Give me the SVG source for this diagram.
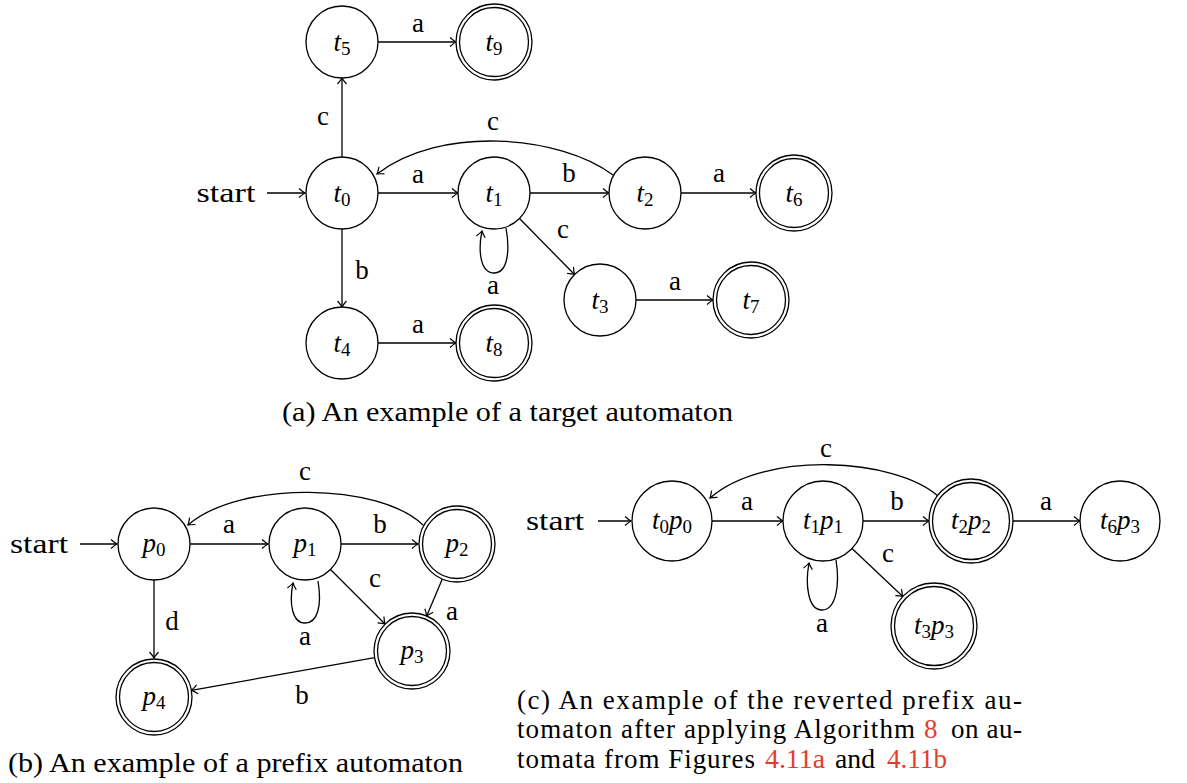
<svg xmlns="http://www.w3.org/2000/svg" width="1187" height="783" viewBox="0 0 1187 783" font-family="'Liberation Serif', 'Times New Roman', Tinos, 'Noto Serif', 'DejaVu Serif', Times, serif">
<style>
.st{fill:#fff;stroke:#000;stroke-width:1.3}
.ed{fill:none;stroke:#000;stroke-width:1.3;marker-end:url(#ar)}
text{font-family:'Liberation Serif','Times New Roman',Tinos,'Noto Serif','DejaVu Serif',Times,serif;fill:#000}
.lb{font-size:27px;text-anchor:middle}
.nl{font-size:27px;text-anchor:middle;font-style:italic}
.sb{font-size:19px;font-style:normal}
.cap{font-size:27px}
.red{fill:#e23d2c}
</style>
<defs>
<marker id="ar" viewBox="-8 -6 10 12" refX="0" refY="0" markerWidth="10" markerHeight="12" orient="auto" markerUnits="userSpaceOnUse">
<path d="M-6,-4.5 Q-2,-1 0,0 Q-2,1 -6,4.5" fill="none" stroke="#000" stroke-width="1.2"/>
</marker>
</defs>

<!-- (a) target automaton -->
<g id="a-connectors">
<line class="ed" x1="267" y1="193" x2="305" y2="193"/>
<line class="ed" x1="378" y1="193" x2="458" y2="193"/>
<line class="ed" x1="530" y1="193" x2="609" y2="193"/>
<line class="ed" x1="681" y1="193" x2="756" y2="193"/>
<line class="ed" x1="342" y1="157" x2="342" y2="78"/>
<line class="ed" x1="378" y1="42" x2="456" y2="42"/>
<line class="ed" x1="342" y1="229" x2="342" y2="307"/>
<line class="ed" x1="378" y1="343" x2="456" y2="343"/>
<line class="ed" x1="636" y1="300" x2="713" y2="300"/>
<line class="ed" x1="519.5" y1="218.5" x2="574.5" y2="274.5"/>
<path class="ed" d="M613,175 C560,135 440,125 377,174"/>
<path class="ed" d="M506,228 C510,250 508,273 494,273 C480,273 478,250 482,231"/>
<text class="lb" x="418" y="183">a</text>
<text class="lb" x="569" y="182">b</text>
<text class="lb" x="719" y="182">a</text>
<text class="lb" x="323" y="125">c</text>
<text class="lb" x="418" y="32">a</text>
<text class="lb" x="362" y="279">b</text>
<text class="lb" x="418" y="333">a</text>
<text class="lb" x="563" y="238">c</text>
<text class="lb" x="675" y="290">a</text>
<text class="lb" x="493" y="130">c</text>
<text class="lb" x="493" y="294">a</text>
</g>
<g id="a-start"><text class="lb" x="226" y="202" textLength="59" lengthAdjust="spacingAndGlyphs">start</text></g>
<g id="t0"><circle class="st" cx="342" cy="193" r="36"/><text class="nl" x="342" y="202">t<tspan class="sb" dy="4">0</tspan></text></g>
<g id="t1"><circle class="st" cx="494" cy="193" r="36"/><text class="nl" x="494" y="202">t<tspan class="sb" dy="4">1</tspan></text></g>
<g id="t2"><circle class="st" cx="645" cy="193" r="36"/><text class="nl" x="645" y="202">t<tspan class="sb" dy="4">2</tspan></text></g>
<g id="t6"><circle class="st" cx="794" cy="193" r="38"/><circle class="st" cx="794" cy="193" r="34.5"/><text class="nl" x="794" y="202">t<tspan class="sb" dy="4">6</tspan></text></g>
<g id="t5"><circle class="st" cx="342" cy="42" r="36"/><text class="nl" x="342" y="51">t<tspan class="sb" dy="4">5</tspan></text></g>
<g id="t9"><circle class="st" cx="494" cy="42" r="38"/><circle class="st" cx="494" cy="42" r="34.5"/><text class="nl" x="494" y="51">t<tspan class="sb" dy="4">9</tspan></text></g>
<g id="t4"><circle class="st" cx="342" cy="343" r="36"/><text class="nl" x="342" y="352">t<tspan class="sb" dy="4">4</tspan></text></g>
<g id="t8"><circle class="st" cx="494" cy="343" r="38"/><circle class="st" cx="494" cy="343" r="34.5"/><text class="nl" x="494" y="352">t<tspan class="sb" dy="4">8</tspan></text></g>
<g id="t3"><circle class="st" cx="600" cy="300" r="36"/><text class="nl" x="600" y="309">t<tspan class="sb" dy="4">3</tspan></text></g>
<g id="t7"><circle class="st" cx="751" cy="300" r="38"/><circle class="st" cx="751" cy="300" r="34.5"/><text class="nl" x="751" y="309">t<tspan class="sb" dy="4">7</tspan></text></g>
<text class="cap" x="282" y="421" textLength="451" lengthAdjust="spacingAndGlyphs">(a) An example of a target automaton</text>

<!-- (b) prefix automaton -->
<g id="b-connectors">
<line class="ed" x1="80" y1="544" x2="117" y2="544"/>
<line class="ed" x1="190" y1="544" x2="268" y2="544"/>
<line class="ed" x1="341" y1="544" x2="418" y2="544"/>
<line class="ed" x1="154" y1="580" x2="154" y2="658"/>
<line class="ed" x1="330.5" y1="569.5" x2="385" y2="624"/>
<line class="ed" x1="442.3" y1="579" x2="426.7" y2="616"/>
<line class="ed" x1="374.6" y1="657.7" x2="191.5" y2="690.3"/>
<path class="ed" d="M423,525 C380,483 240,480 188,525"/>
<path class="ed" d="M318,581 C322,605 318,623 305,623 C292,623 289,603 293,583"/>
<text class="lb" x="229" y="533">a</text>
<text class="lb" x="380" y="533">b</text>
<text class="lb" x="305" y="480">c</text>
<text class="lb" x="305" y="645">a</text>
<text class="lb" x="375" y="587">c</text>
<text class="lb" x="452" y="620">a</text>
<text class="lb" x="302" y="704">b</text>
<text class="lb" x="172" y="630">d</text>
</g>
<g id="b-start"><text class="lb" x="39" y="553" textLength="58" lengthAdjust="spacingAndGlyphs">start</text></g>
<g id="p0"><circle class="st" cx="154" cy="544" r="36"/><text class="nl" x="154" y="552">p<tspan class="sb" dy="4">0</tspan></text></g>
<g id="p1"><circle class="st" cx="305" cy="544" r="36"/><text class="nl" x="305" y="552">p<tspan class="sb" dy="4">1</tspan></text></g>
<g id="p2"><circle class="st" cx="457" cy="544" r="38"/><circle class="st" cx="457" cy="544" r="34.5"/><text class="nl" x="457" y="552">p<tspan class="sb" dy="4">2</tspan></text></g>
<g id="p3"><circle class="st" cx="412" cy="651" r="38"/><circle class="st" cx="412" cy="651" r="34.5"/><text class="nl" x="412" y="659">p<tspan class="sb" dy="4">3</tspan></text></g>
<g id="p4"><circle class="st" cx="154" cy="697" r="38"/><circle class="st" cx="154" cy="697" r="34.5"/><text class="nl" x="154" y="705">p<tspan class="sb" dy="4">4</tspan></text></g>
<text class="cap" x="8" y="772" textLength="455" lengthAdjust="spacingAndGlyphs">(b) An example of a prefix automaton</text>

<!-- (c) reverted prefix automaton -->
<g id="c-connectors">
<line class="ed" x1="598" y1="521" x2="631" y2="521"/>
<line class="ed" x1="712" y1="521" x2="783" y2="521"/>
<line class="ed" x1="863" y1="521" x2="929" y2="521"/>
<line class="ed" x1="1013" y1="521" x2="1080" y2="521"/>
<line class="ed" x1="852" y1="548.5" x2="902.8" y2="596.5"/>
<path class="ed" d="M938,496 C895,458 765,450 710,498"/>
<path class="ed" d="M836,560 C840,585 836,610 822,610 C808,610 805,585 809,563"/>
<text class="lb" x="747" y="510">a</text>
<text class="lb" x="897" y="510">b</text>
<text class="lb" x="1046" y="510">a</text>
<text class="lb" x="826" y="457">c</text>
<text class="lb" x="822" y="632">a</text>
<text class="lb" x="888" y="562">c</text>
</g>
<g id="c-start"><text class="lb" x="555" y="530" textLength="58" lengthAdjust="spacingAndGlyphs">start</text></g>
<g id="t0p0"><circle class="st" cx="672" cy="521" r="40"/><text class="nl" x="672" y="529">t<tspan class="sb" dy="4">0</tspan><tspan dy="-4">p</tspan><tspan class="sb" dy="4">0</tspan></text></g>
<g id="t1p1"><circle class="st" cx="823" cy="521" r="40"/><text class="nl" x="823" y="529">t<tspan class="sb" dy="4">1</tspan><tspan dy="-4">p</tspan><tspan class="sb" dy="4">1</tspan></text></g>
<g id="t2p2"><circle class="st" cx="971" cy="521" r="42"/><circle class="st" cx="971" cy="521" r="38.5"/><text class="nl" x="971" y="529">t<tspan class="sb" dy="4">2</tspan><tspan dy="-4">p</tspan><tspan class="sb" dy="4">2</tspan></text></g>
<g id="t6p3"><circle class="st" cx="1120" cy="521" r="40"/><text class="nl" x="1120" y="529">t<tspan class="sb" dy="4">6</tspan><tspan dy="-4">p</tspan><tspan class="sb" dy="4">3</tspan></text></g>
<g id="t3p3"><circle class="st" cx="934" cy="626" r="43"/><circle class="st" cx="934" cy="626" r="39.5"/><text class="nl" x="934" y="634">t<tspan class="sb" dy="4">3</tspan><tspan dy="-4">p</tspan><tspan class="sb" dy="4">3</tspan></text></g>
<text class="cap" x="517" y="709" textLength="505" lengthAdjust="spacing">(c) An example of the reverted prefix au-</text>
<text class="cap" y="738"><tspan x="517" textLength="398" lengthAdjust="spacing">tomaton after applying Algorithm</tspan><tspan x="924" class="red">8</tspan><tspan x="951" textLength="71" lengthAdjust="spacing">on au-</tspan></text>
<text class="cap" y="768"><tspan x="517" textLength="238" lengthAdjust="spacing">tomata from Figures</tspan><tspan x="765" class="red" textLength="60" lengthAdjust="spacingAndGlyphs">4.11a</tspan><tspan x="835" textLength="40" lengthAdjust="spacingAndGlyphs">and</tspan><tspan x="887" class="red" textLength="60" lengthAdjust="spacingAndGlyphs">4.11b</tspan></text>
</svg>
